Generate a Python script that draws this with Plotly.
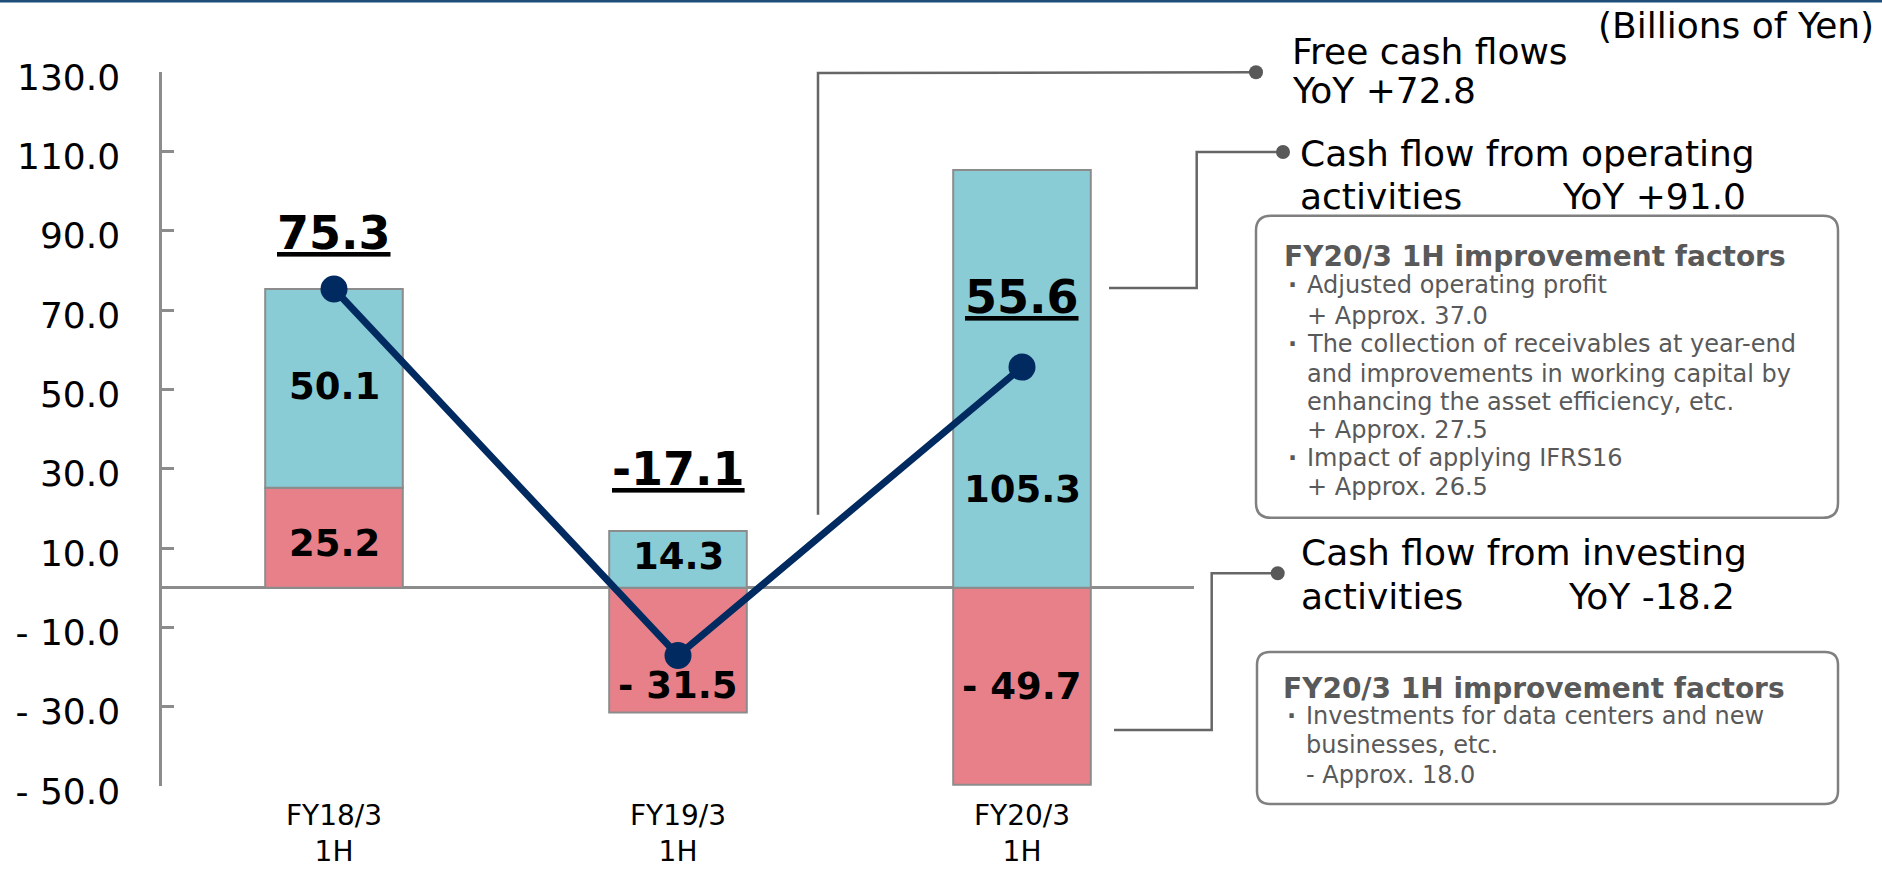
import plotly.graph_objects as go

# ---------------- data ----------------
categories = ["FY18/3<br>1H", "FY19/3<br>1H", "FY20/3<br>1H"]
operating_cf = [50.1, 14.3, 105.3]      # Cash flow from operating activities
investing_cf = [25.2, -31.5, -49.7]     # Cash flow from investing activities
free_cf = [75.3, -17.1, 55.6]           # Free cash flows
y_tick_vals = [130, 110, 90, 70, 50, 30, 10, -10, -30, -50]
y_tick_text = ["130.0", "110.0", "90.0", "70.0", "50.0", "30.0", "10.0",
               "- 10.0", "- 30.0", "- 50.0"]

# label placement (data units on the y axis)
op_label_y = [50.6, 7.8, 24.8]
inv_label_y = [11.1, -24.6, -25.0]
fcf_label_y = [89.5, 29.9, 73.4]

# ---------------- layout geometry (pixels) ----------------
W, H = 1882, 870
L, R, T, B = 162, 1194, 72.4, 786

def px(x):
    return (x - L) / (R - L)

def py(y):
    return (B - y) / (B - T)

FONT = "DejaVu Sans"
GRAY_TXT = "#595959"
LINE_GRAY = "#666666"
AX_GRAY = "#8c8c8c"

def fmt(v):
    return f"- {abs(v):.1f}" if v < 0 else f"{v:.1f}"

fig = go.Figure()
fig.add_trace(go.Bar(x=categories, y=investing_cf, name="Investing",
                     marker=dict(color="#E8808A", line=dict(color=AX_GRAY, width=2)),
                     width=0.4, hoverinfo="skip"))
fig.add_trace(go.Bar(x=categories, y=operating_cf, name="Operating",
                     marker=dict(color="#89CCD5", line=dict(color=AX_GRAY, width=2)),
                     width=0.4, hoverinfo="skip"))
fig.add_trace(go.Scatter(x=categories, y=free_cf, mode="lines+markers", name="FCF",
                         line=dict(color="#002A60", width=7),
                         marker=dict(color="#002A60", size=27), hoverinfo="skip"))

annotations = []
for i, c in enumerate(categories):
    annotations.append(dict(x=c, y=op_label_y[i], xref="x", yref="y", showarrow=False,
                            text=f"<b>{fmt(operating_cf[i])}</b>",
                            font=dict(family=FONT, size=37, color="#000000")))
    annotations.append(dict(x=c, y=inv_label_y[i], xref="x", yref="y", showarrow=False,
                            text=f"<b>{fmt(investing_cf[i])}</b>",
                            font=dict(family=FONT, size=37, color="#000000")))
    annotations.append(dict(x=c, y=fcf_label_y[i], xref="x", yref="y", showarrow=False,
                            text=f"<b><u>{free_cf[i]:.1f}</u></b>",
                            font=dict(family=FONT, size=46, color="#000000")))
    # category label (two lines) under the plot
    annotations.append(dict(x=c, y=py(869), xref="x", yref="paper",
                            showarrow=False, yanchor="bottom", text=c, borderpad=0,
                            font=dict(family=FONT, size=28, color="#000000")))

def txt(x, y, text, size, color="#000000", anchor="left"):
    annotations.append(dict(x=px(x), y=py(y), xref="paper", yref="paper", showarrow=False,
                            xanchor=anchor, yanchor="middle", text=text,
                            font=dict(family=FONT, size=size, color=color)))

# right-hand titles
txt(1876, 26, "(Billions of Yen)", 36, anchor="right")
txt(1290, 52, "Free cash flows", 36)
txt(1290, 91, "YoY +72.8", 36)
txt(1298, 154, "Cash flow from operating", 36)
txt(1298, 197, "activities", 36)
txt(1560, 197, "YoY +91.0", 36)
txt(1299, 552.5, "Cash flow from investing", 36)
txt(1299, 597, "activities", 36)
txt(1566, 597, "YoY -18.2", 36)

# box 1 contents
txt(1282, 257, "<b>FY20/3 1H improvement factors</b>", 28, GRAY_TXT)
box1 = [("·", "Adjusted operating profit"),
        ("", "+ Approx. 37.0"),
        ("·", "The collection of receivables at year-end"),
        ("", "and improvements in working capital by"),
        ("", "enhancing the asset efficiency, etc."),
        ("", "+ Approx. 27.5"),
        ("·", "Impact of applying IFRS16"),
        ("", "+ Approx. 26.5")]
base1 = [294, 325, 353, 383, 411, 439, 467, 496]
for (b, t), yb in zip(box1, base1):
    if b:
        txt(1292, yb - 9, f"<b>{b}</b>", 24, GRAY_TXT, anchor="center")
    txt(1305, yb - 9, t, 24, GRAY_TXT)

# box 2 contents
txt(1281, 689, "<b>FY20/3 1H improvement factors</b>", 28, GRAY_TXT)
box2 = [("·", "Investments for data centers and new"),
        ("", "businesses, etc."),
        ("", "- Approx. 18.0")]
base2 = [725, 754, 784]
for (b, t), yb in zip(box2, base2):
    if b:
        txt(1291, yb - 9, f"<b>{b}</b>", 24, GRAY_TXT, anchor="center")
    txt(1304, yb - 9, t, 24, GRAY_TXT)

shapes = []

def poly(points, color=LINE_GRAY, width=2.5):
    d = "M " + " L ".join(f"{px(x)},{py(y)}" for x, y in points)
    shapes.append(dict(type="path", xref="paper", yref="paper", path=d,
                       line=dict(color=color, width=width)))

def dot(x, y, r=7, color="#595959"):
    shapes.append(dict(type="circle", xref="paper", yref="paper",
                       x0=px(x - r), x1=px(x + r), y0=py(y + r), y1=py(y - r),
                       fillcolor=color, line=dict(width=0)))

def rrect(x0, y0, x1, y1, r):
    pts = [("M", x0 + r, y0), ("L", x1 - r, y0), ("Q", x1, y0, x1, y0 + r),
           ("L", x1, y1 - r), ("Q", x1, y1, x1 - r, y1), ("L", x0 + r, y1),
           ("Q", x0, y1, x0, y1 - r), ("L", x0, y0 + r), ("Q", x0, y0, x0 + r, y0)]
    parts = []
    for p in pts:
        cmd = p[0]
        coords = p[1:]
        s = " ".join(f"{px(coords[k])},{py(coords[k + 1])}" for k in range(0, len(coords), 2))
        parts.append(f"{cmd} {s}")
    d = " ".join(parts) + " Z"
    shapes.append(dict(type="path", xref="paper", yref="paper", path=d,
                       line=dict(color="#808080", width=2.5)))

# connectors
poly([(818, 515), (818, 73.5), (1256, 72.7)])
dot(1256, 72.7)
poly([(1109, 288.3), (1196.7, 288.3), (1196.7, 152.3), (1283, 152.3)])
dot(1283, 152.3)
poly([(1114, 730), (1211.7, 730), (1211.7, 573.3), (1277.7, 573.3)])
dot(1277.7, 573.3)

# boxes
rrect(1256, 216, 1838, 518, 15)
rrect(1257, 652, 1838, 804, 13)

# top border
shapes.append(dict(type="line", xref="paper", yref="paper", x0=px(0), x1=px(W),
                   y0=py(1.5), y1=py(1.5), line=dict(color="#1F4E79", width=3)))

fig.update_layout(
    width=W, height=H, autosize=False,
    margin=dict(l=L, r=W - R, t=T, b=H - B, pad=0),
    paper_bgcolor="white", plot_bgcolor="white",
    barmode="relative", bargap=0.6, showlegend=False,
    annotations=annotations, shapes=shapes,
    xaxis=dict(type="category", range=[-0.5, 2.5], showgrid=False, showline=False,
               zeroline=False, ticks="", showticklabels=False, automargin=False),
    yaxis=dict(range=[-50, 130], tickvals=y_tick_vals, ticktext=y_tick_text,
               showgrid=False, showline=True, linecolor=AX_GRAY, linewidth=2.5,
               ticks="inside", ticklen=12, tickwidth=2.5, tickcolor=AX_GRAY,
               zeroline=True, zerolinecolor=AX_GRAY, zerolinewidth=2.5,
               ticklabelstandoff=32, ticklabelshift=5, automargin=False,
               tickfont=dict(family=FONT, size=36, color="#000000")),
    hovermode=False,
)

fig.write_html("out.html", config={"displayModeBar": False},
               post_script="document.body.style.margin='0';document.body.style.overflow='hidden';")
